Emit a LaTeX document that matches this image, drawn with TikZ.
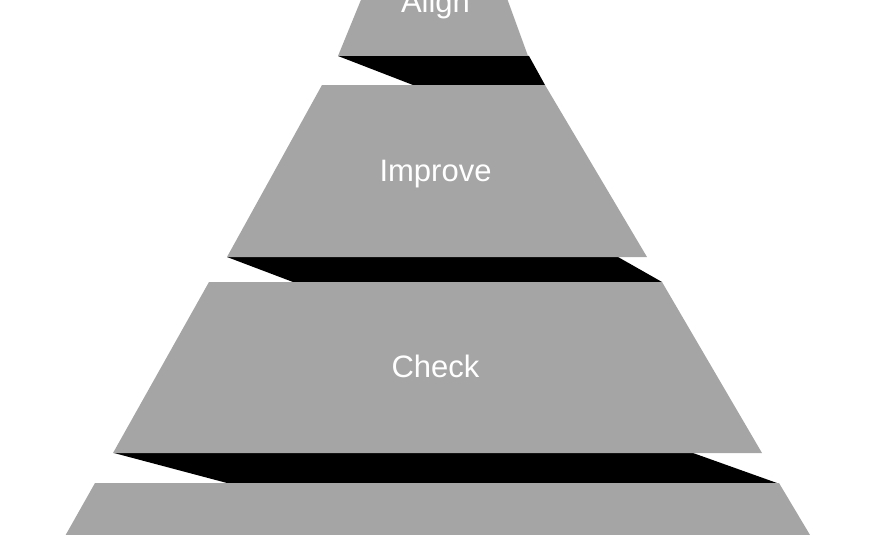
\documentclass[tikz,border=0pt]{standalone}
\usepackage{fontspec}
\setmainfont{Liberation Sans}
\definecolor{tiergray}{RGB}{165,165,165}
\tikzset{
  tier/.style={fill=tiergray, draw=none},
  band/.style={fill=black, draw=none},
  label/.style={text=white, font=\fontsize{31}{37}\selectfont, anchor=base, inner sep=0pt}
}
\begin{document}
\begin{tikzpicture}[x=1pt, y=-1pt]
\useasboundingbox (0,0) rectangle (875,535);
\clip (0,0) rectangle (875,535);
% dark depth bands
\fill[band] (338,56) -- (529,56) -- (545,85) -- (413,85) -- cycle;
\fill[band] (227,257) -- (618,257) -- (662,282) -- (293,282) -- cycle;
\fill[band] (114,453) -- (693,453) -- (777,483) -- (227,483) -- cycle;
% tiers
\fill[tier] (365,-10) -- (504,-10) -- (528,56) -- (338,56) -- cycle;
\fill[tier] (322,85) -- (545,85) -- (647,257) -- (227,257) -- cycle;
\fill[tier] (209,282) -- (662,282) -- (762,453) -- (113,453) -- cycle;
\fill[tier] (95,483) -- (779,483) -- (816,545) -- (60,545) -- cycle;
% labels
\node[label] (align) at (435.5,12.5) {Align};
\node[label] (improve) at (435.5,181.7) {Improve};
\node[label] (check) at (435.5,377.3) {Check};
\end{tikzpicture}
\end{document}
